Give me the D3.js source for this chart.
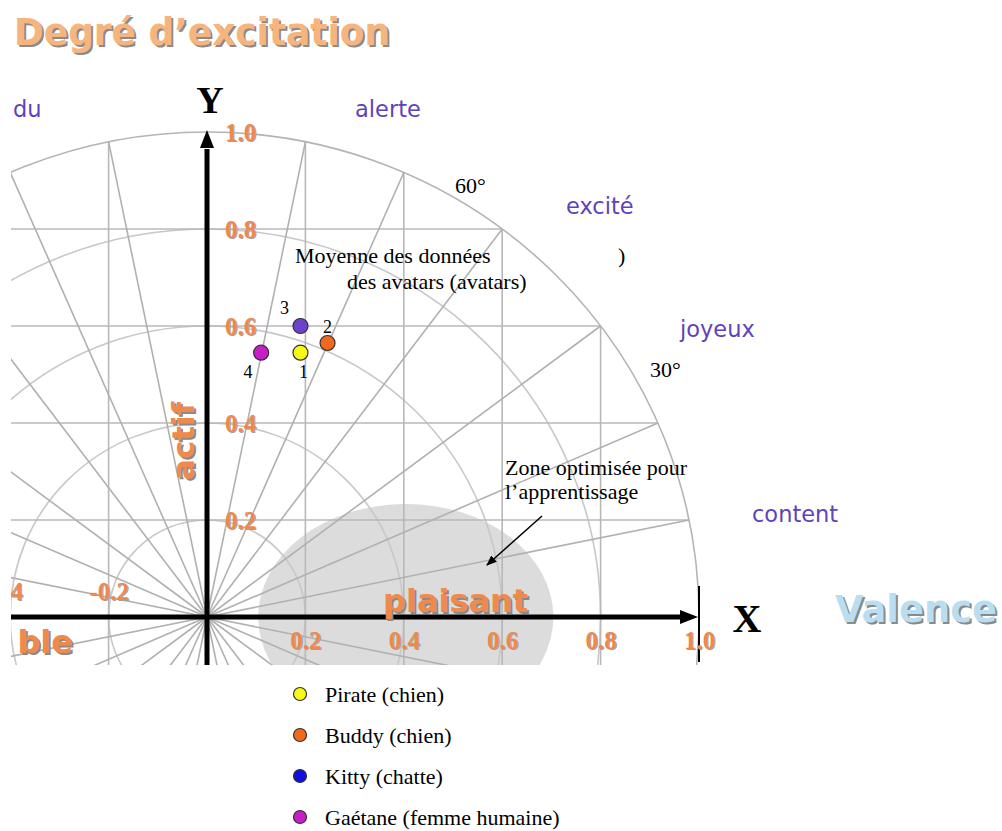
<!DOCTYPE html>
<meta charset="utf-8">
<script src="https://cdn.jsdelivr.net/npm/d3@7"></script>
<style>
  body { margin: 0; background: #fff; }
  svg { display: block; }
</style>
<svg></svg>
<script>
    // data
    var avatars = ["Pirate (chien)", "Buddy (chien)", "Kitty (chatte)", "Gaétane (femme humaine)"];
    var pointNames = ["1", "2", "3", "4"];
    var valence = [0.19, 0.245, 0.19, 0.11];
    var arousal = [0.545, 0.565, 0.60, 0.545];
    var pointColors = ["#f8f816", "#f2691c", "#6a42cc", "#c81ec8"];
    var legendColors = ["#f8f816", "#f2691c", "#1010dc", "#c81ec8"];
    var gridSteps = [0.2, 0.4, 0.6, 0.8];
    var rings = [0.2, 0.4, 0.6, 0.8, 1.0];
    var xTicksPos = [0.2, 0.4, 0.6, 0.8, 1.0];
    var xTicksNeg = [-0.2];
    var yTicks = [0.2, 0.4, 0.6, 0.8, 1.0];

    var svg = d3.select("svg").attr('width', 1002).attr('height', 831);
    var x = d3.scaleLinear().domain([0, 1]).range([207, 699]);
    var y = d3.scaleLinear().domain([0, 1]).range([617, 132]);
    var fmt = d => d.toFixed(1);

    var defs = svg.append('defs');
    defs.append('clipPath').attr('id', 'plotclip')
        .append('rect').attr('x', 11).attr('y', 0).attr('width', 991).attr('height', 665);
    defs.append('marker').attr('id', 'arr').attr('viewBox', '0 0 10 10')
        .attr('refX', 9).attr('refY', 5).attr('markerWidth', 7).attr('markerHeight', 7)
        .attr('orient', 'auto-start-reverse')
        .append('path').attr('d', 'M0,1 L10,5 L0,9 Z').attr('fill', '#000');

    var plot = svg.append('g').attr('clip-path', 'url(#plotclip)');

    // zone optimisée
    plot.append('ellipse')
        .attr('cx', x(0.404)).attr('cy', y(0.0))
        .attr('rx', x(0.30) - x(0)).attr('ry', y(0) - y(0.233))
        .attr('fill', '#dcdcdc');

    // rings
    plot.selectAll('.ring').data(rings).enter().append('ellipse')
        .attr('class', 'ring')
        .attr('cx', x(0)).attr('cy', y(0))
        .attr('rx', d => x(d) - x(0)).attr('ry', d => y(0) - y(d))
        .attr('fill', 'none')
        .attr('stroke', d => d === 1 ? '#b4b4b4' : '#c8c8c8')
        .attr('stroke-width', 1.6);

    // vertical and horizontal grid lines clipped to the unit circle
    var vx = gridSteps.concat(gridSteps.map(d => -d));
    plot.selectAll('.vgrid').data(vx).enter().append('line')
        .attr('x1', d => x(d)).attr('x2', d => x(d))
        .attr('y1', y(-0.2)).attr('y2', d => y(Math.sqrt(1 - d * d)))
        .attr('stroke', '#b8b8b8').attr('stroke-width', 1.6);
    plot.selectAll('.hgrid').data(gridSteps).enter().append('line')
        .attr('y1', d => y(d)).attr('y2', d => y(d))
        .attr('x1', d => x(-Math.sqrt(1 - d * d))).attr('x2', d => x(Math.sqrt(1 - d * d)))
        .attr('stroke', '#b8b8b8').attr('stroke-width', 1.6);

    // radial lines towards the grid/circle crossings
    var dirs = [];
    gridSteps.forEach(g => {
        var c = Math.sqrt(1 - g * g);
        [[c, g], [g, c]].forEach(p => {
            if (!dirs.some(q => Math.abs(q[0] - p[0]) < 1e-6)) dirs.push(p);
        });
    });
    var radial = [];
    dirs.forEach(p => [[1, 1], [-1, 1], [1, -1], [-1, -1]].forEach(s => radial.push([p[0] * s[0], p[1] * s[1]])));
    plot.selectAll('.radial').data(radial).enter().append('line')
        .attr('x1', x(0)).attr('y1', y(0))
        .attr('x2', d => x(d[0])).attr('y2', d => y(d[1]))
        .attr('stroke', '#b0b0b0').attr('stroke-width', 1.6);

    // axes
    plot.append('line').attr('x1', 11).attr('x2', x(0.97)).attr('y1', y(0)).attr('y2', y(0))
        .attr('stroke', '#000').attr('stroke-width', 5);
    plot.append('path')
        .attr('d', `M${x(1) - 1},${y(0)} l-18,-7 l0,14 Z`).attr('fill', '#000');
    plot.append('line').attr('x1', x(0)).attr('x2', x(0)).attr('y1', 665).attr('y2', y(0.965))
        .attr('stroke', '#000').attr('stroke-width', 5);
    plot.append('path')
        .attr('d', `M${x(0)},${y(1) - 2} l-7,18 l14,0 Z`).attr('fill', '#000');
    plot.append('line').attr('x1', x(1)).attr('x2', x(1)).attr('y1', 586).attr('y2', 662)
        .attr('stroke', '#000').attr('stroke-width', 2);

    // tick labels, drawn with d3 axes (shadow + face)
    function tickAxis(g, axis, color, dx, dy) {
        g.attr('transform', `translate(${dx},${dy})`).call(axis);
        g.select('.domain').remove();
        g.selectAll('text').attr('fill', color)
            .attr('font-family', 'Liberation Serif').attr('font-weight', 'bold').attr('font-size', 25);
    }
    [['#a0a0a0', 1], ['#f0884c', 0]].forEach(s => {
        tickAxis(plot.append('g'), d3.axisRight(y).tickValues(yTicks).tickSize(0).tickPadding(18).tickFormat(fmt),
            s[0], x(0) + s[1], s[1]);
        tickAxis(plot.append('g'), d3.axisBottom(x).tickValues(xTicksPos).tickSize(0).tickPadding(14).tickFormat(fmt),
            s[0], s[1], y(0) + s[1]);
        tickAxis(plot.append('g'), d3.axisTop(x).tickValues(xTicksNeg).tickSize(0).tickPadding(17).tickFormat(fmt),
            s[0], s[1], y(0) + s[1]);
        // visible remainder of the -0.4 label at the cropped left edge
        plot.append('text').attr('x', 23 + s[1]).attr('y', 600 + s[1]).attr('text-anchor', 'end')
            .attr('fill', s[0]).attr('font-family', 'Liberation Serif').attr('font-weight', 'bold')
            .attr('font-size', 25).text('4');
    });

    // big shadowed words
    function bigWord(parent, txt, tx, ty, size, color, anchor, rot, len) {
        [['#8a8a8a', 2], [color, 0]].forEach(s => {
            var t = parent.append('text')
                .attr('transform', `translate(${tx + s[1]},${ty + s[1]})` + (rot ? ` rotate(${rot})` : ''))
                .attr('font-family', 'DejaVu Sans').attr('font-weight', 'bold').attr('font-size', size)
                .attr('text-anchor', anchor || 'start').attr('fill', s[0]).text(txt);
            if (len) t.attr('textLength', len).attr('lengthAdjust', 'spacingAndGlyphs');
        });
    }
    bigWord(svg, "Degré d’excitation", 14, 45, 37, '#f6b47e', 'start', 0, 376);
    bigWord(svg, "Valence", 835, 622, 37, '#b9def2', 'start', 0, 162);
    bigWord(plot, "plaisant", 383, 612, 32, '#f08a4c');
    bigWord(plot, "actif", 194, 480, 31, '#f08a4c', 'start', -90);
    bigWord(plot, "ble", 73, 653, 32, '#f08a4c', 'end');

    // mood words
    var moodStyle = t => t.attr('font-family', 'DejaVu Sans').attr('font-size', 22.5).attr('fill', '#6042bc');
    [["du", 13, 117], ["alerte", 355, 117], ["excité", 566, 214], ["joyeux", 680, 337], ["content", 752, 522]]
        .forEach(m => svg.append('text').attr('x', m[1]).attr('y', m[2]).text(m[0]).call(moodStyle));

    // axis letters
    svg.append('text').attr('x', 210).attr('y', 113).attr('text-anchor', 'middle')
        .attr('font-family', 'Liberation Serif').attr('font-weight', 'bold').attr('font-size', 38).text('Y');
    svg.append('text').attr('x', 747).attr('y', 632).attr('text-anchor', 'middle')
        .attr('font-family', 'Liberation Serif').attr('font-weight', 'bold').attr('font-size', 40).text('X');

    // serif annotations
    var serif = t => t.attr('font-family', 'Liberation Serif').attr('font-size', 22).attr('fill', '#000');
    [["Moyenne des données", 295, 263], ["des avatars (avatars)", 347, 289], [")", 618, 263],
     ["60°", 455, 193], ["30°", 650, 377], ["Zone optimisée pour", 505, 475], ["l’apprentissage", 505, 499]]
        .forEach(a => svg.append('text').attr('x', a[1]).attr('y', a[2]).text(a[0]).call(serif));

    svg.append('line').attr('x1', 542).attr('y1', 516).attr('x2', 487).attr('y2', 565)
        .attr('stroke', '#000').attr('stroke-width', 1.5).attr('marker-end', 'url(#arr)');

    // avatar points
    var labelOff = [[3, 25], [0, -10], [-16, -12], [-13, 25]];
    svg.selectAll('.pt').data(avatars).enter().append('circle')
        .attr('cx', (d, i) => x(valence[i])).attr('cy', (d, i) => y(arousal[i]))
        .attr('r', 7.5).attr('fill', (d, i) => pointColors[i])
        .attr('stroke', '#333').attr('stroke-width', 1.2);
    svg.selectAll('.ptlab').data(pointNames).enter().append('text')
        .attr('x', (d, i) => x(valence[i]) + labelOff[i][0])
        .attr('y', (d, i) => y(arousal[i]) + labelOff[i][1])
        .attr('text-anchor', 'middle')
        .attr('font-family', 'Liberation Serif').attr('font-size', 18).text(d => d);

    // legend
    var leg = svg.selectAll('.leg').data(avatars).enter().append('g')
        .attr('transform', (d, i) => `translate(300,${694 + i * 41})`);
    leg.append('circle').attr('r', 6.5).attr('fill', (d, i) => legendColors[i])
        .attr('stroke', '#333').attr('stroke-width', 1.2);
    leg.append('text').attr('x', 25).attr('y', 8).text(d => d).call(serif);
</script>
